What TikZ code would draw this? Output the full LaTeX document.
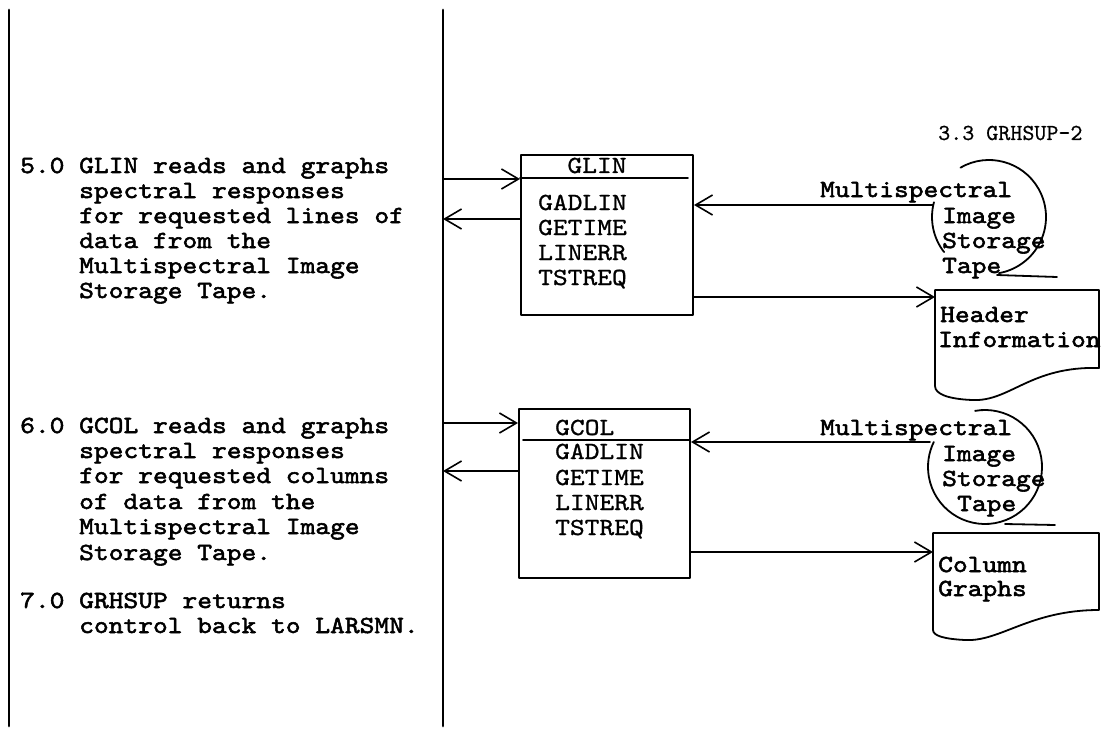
\documentclass[tikz,border=0pt]{standalone}
\usepackage{fontspec}
\usetikzlibrary{arrows.meta}
\newfontfamily\monob{lmmono10-regular.otf}[FakeStretch=1.143,FakeBold=2.2]
\newfontfamily\monor{lmmono10-regular.otf}[FakeStretch=1.143,FakeBold=1]
\newfontfamily\monop{lmmono10-regular.otf}[FakeBold=0.6]
\newcommand\descfont{\monob\fontsize{24.6}{25}\selectfont}
\newcommand\itemfont{\monor\fontsize{24.6}{25}\selectfont}
\newcommand\pagefont{\monop\fontsize{22.9}{24}\selectfont}
\begin{document}
\begin{tikzpicture}[x=1pt,y=-1pt,line cap=round,line join=round,
  txt/.style={anchor=base west,inner sep=0pt,font=\descfont},
  itm/.style={anchor=base west,inner sep=0pt,font=\itemfont},
  arr/.style={-{Straight Barb[length=17pt,width=20pt]},line width=1.6pt},
  frame/.style={line width=2.8pt},
  pbox/.style={draw,line width=2pt,anchor=north west,inner sep=0pt},
  shp/.style={line width=1.8pt}]
\useasboundingbox (0,0) rectangle (1102,730);

% frame lines
\coordinate (ltop) at (9,10);  \coordinate (lbot) at (9,726);
\coordinate (rtop) at (443,10); \coordinate (rbot) at (443,726);
\draw[frame] (ltop) -- (lbot);
\draw[frame] (rtop) -- (rbot);

% left descriptions
\node[txt] (d1a) at (20,173) {5.0 GLIN reads and graphs};
\node[txt] (d1b) at (79,198) {spectral responses};
\node[txt] (d1c) at (79,223) {for requested lines of};
\node[txt] (d1d) at (79,248) {data from the};
\node[txt] (d1e) at (79,273) {Multispectral Image};
\node[txt] (d1f) at (79,298) {Storage Tape.};

\node[txt] (d2a) at (20,433) {6.0 GCOL reads and graphs};
\node[txt] (d2b) at (79,458) {spectral responses};
\node[txt] (d2c) at (79,483) {for requested columns};
\node[txt] (d2d) at (79,509) {of data from the};
\node[txt] (d2e) at (79,534) {Multispectral Image};
\node[txt] (d2f) at (79,560) {Storage Tape.};

\node[txt] (d3a) at (20,608) {7.0 GRHSUP returns};
\node[txt] (d3b) at (79,633) {control back to LARSMN.};

% page label
\node[anchor=base west,inner sep=0pt,font=\pagefont] (pg) at (938,140) {3.3 GRHSUP-2};

% GLIN box
\node[pbox,minimum width=172pt,minimum height=160pt] (glin) at (520,154) {};
\node[itm,anchor=base] (glinT) at (597,173) {GLIN};
\coordinate (g1l) at (520,178); \coordinate (g1r) at (688,178);
\draw[line width=1.6pt] (g1l) -- (g1r);
\node[itm] (g1a) at (538,210) {GADLIN};
\node[itm] (g1b) at (538,235) {GETIME};
\node[itm] (g1c) at (538,260) {LINERR};
\node[itm] (g1d) at (538,285) {TSTREQ};

% GCOL box
\node[pbox,minimum width=171pt,minimum height=169pt] (gcol) at (518,408) {};
\node[itm] (gcolT) at (555,435) {GCOL};
\coordinate (g2l) at (523,440); \coordinate (g2r) at (689,440);
\draw[line width=1.6pt] (g2l) -- (g2r);
\node[itm] (g2a) at (555,459) {GADLIN};
\node[itm] (g2b) at (555,485) {GETIME};
\node[itm] (g2c) at (555,510) {LINERR};
\node[itm] (g2d) at (555,535) {TSTREQ};

% tape 1
\coordinate (t1c) at (989,217);
\draw[shp] (t1c) ++(-120:57) arc[start angle=-120,end angle=80,radius=57];
\draw[shp] (t1c) ++(-165:57) arc[start angle=-165,end angle=-218,radius=57];
\coordinate (t1s) at (997,275); \coordinate (t1e) at (1057,277);
\draw[shp] (t1s) -- (t1e);
\node[txt] (t1a) at (820,197) {Multispectral};
\node[txt] (t1b) at (942,223) {Image};
\node[txt] (t1d) at (942,248) {Storage};
\node[txt] (t1f) at (942,273) {Tape};

% tape 2
\coordinate (t2c) at (985,467);
\draw[shp] (t2c) ++(-100:57) arc[start angle=-100,end angle=206,radius=57];
\coordinate (t2s) at (1005,524); \coordinate (t2e) at (1055,525);
\draw[shp] (t2s) -- (t2e);
\node[txt] (t2a) at (820,435) {Multispectral};
\node[txt] (t2b) at (942,461) {Image};
\node[txt] (t2d) at (942,486) {Storage};
\node[txt] (t2f) at (957,511) {Tape};

% document: Header Information
\draw[shp] (935,290) -- (1099,290) -- (1099,368)
  .. controls (1030,366) and (1010,402) .. (972,400)
  .. controls (948,399) and (935,394) .. (935,386) -- cycle;
\node[txt] (h1) at (940,322) {Header};
\node[txt] (h2) at (938,347) {Information};

% document: Column Graphs
\draw[shp] (933,533) -- (1099,533) -- (1099,610)
  .. controls (1030,610) and (1000,642) .. (965,640)
  .. controls (945,639) and (933,636) .. (933,630) -- cycle;
\node[txt] (c1) at (938,572) {Column};
\node[txt] (c2) at (938,596) {Graphs};

% connectors GLIN
\coordinate (a1) at (443,179);
\draw[arr] (a1) -- (a1 -| glin.west);
\coordinate (a2) at (443,219);
\draw[arr] (a2 -| glin.west) -- (a2);
\coordinate (a3) at (933,205);
\draw[arr] (a3) -- (a3 -| glin.east);
\coordinate (a4) at (935,297);
\draw[arr] (a4 -| glin.east) -- (a4);

% connectors GCOL
\coordinate (b1) at (443,423);
\draw[arr] (b1) -- (b1 -| gcol.west);
\coordinate (b2) at (443,471);
\draw[arr] (b2 -| gcol.west) -- (b2);
\coordinate (b3) at (930,442);
\draw[arr] (b3) -- (b3 -| gcol.east);
\coordinate (b4) at (933,552);
\draw[arr] (b4 -| gcol.east) -- (b4);
\end{tikzpicture}
\end{document}
